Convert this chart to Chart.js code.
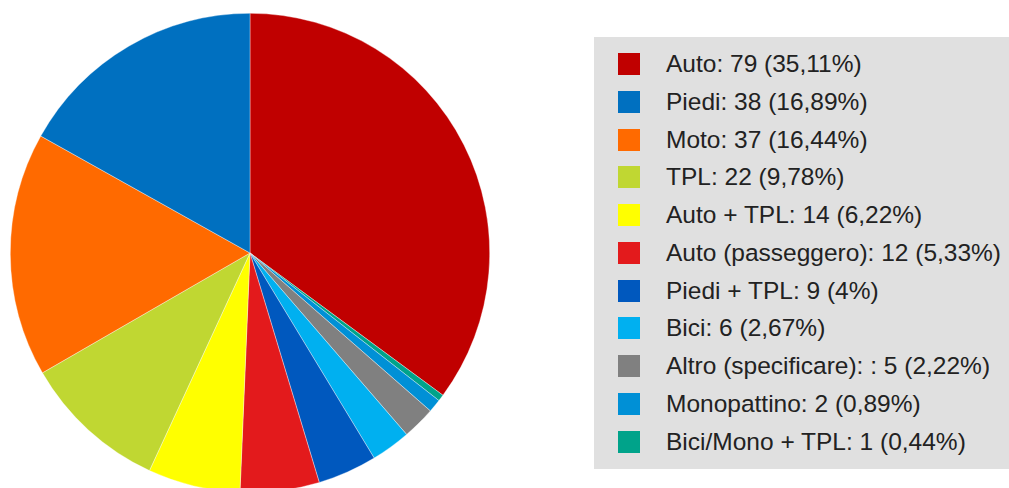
<!DOCTYPE html>
<html>
<head>
<meta charset="utf-8">
<script src="https://cdn.jsdelivr.net/npm/chart.js@4.4.0/dist/chart.umd.min.js"></script>
<style>
  html, body { margin: 0; padding: 0; background: #fff; overflow: hidden; width: 1009px; height: 488px; }
  #pieBox { position: absolute; left: 10px; top: 13px; width: 480px; height: 480px; }
  #legend { position: absolute; left: 594px; top: 37px; width: 415px; height: 432px; background: #e0e0e0; }
  .item { position: absolute; left: 0; height: 22px; font-family: "Liberation Sans", Arial, sans-serif; font-size: 24.5px; color: #222; white-space: pre; }
  .item .sw { position: absolute; left: 24px; top: 0; width: 22px; height: 22px; }
  .item .tx { position: absolute; left: 72px; top: 11px; transform: translateY(-50%); line-height: 1; }
</style>
</head>
<body>
<div id="pieBox"><canvas id="pie"></canvas></div>
<div id="legend"></div>
<script>
const categories = ['Auto', 'Piedi', 'Moto', 'TPL', 'Auto + TPL', 'Auto (passeggero)', 'Piedi + TPL', 'Bici', 'Altro (specificare): ', 'Monopattino', 'Bici/Mono + TPL'];
const values = [79, 38, 37, 22, 14, 12, 9, 6, 5, 2, 1];
const colors = ['#c00000', '#0070c0', '#ff6a00', '#c0d732', '#ffff00', '#e31a1c', '#0058be', '#00b0f0', '#808080', '#0090d6', '#00a38a'];

// the source pie runs Auto clockwise from the top, the rest follow in reverse order
const drawOrder = [0, 10, 9, 8, 7, 6, 5, 4, 3, 2, 1];

const total = values.reduce((a, b) => a + b, 0);
function pct(v) {
    return Number((v / total * 100).toFixed(2)).toString().replace('.', ',');
}

// legend
const legend = document.getElementById('legend');
categories.forEach((c, i) => {
    const row = document.createElement('div');
    row.className = 'item';
    row.style.top = (16 + i * 37.75) + 'px';
    const sw = document.createElement('div');
    sw.className = 'sw';
    sw.style.background = colors[i];
    const tx = document.createElement('div');
    tx.className = 'tx';
    tx.textContent = c + ': ' + values[i] + ' (' + pct(values[i]) + '%)';
    row.appendChild(sw);
    row.appendChild(tx);
    legend.appendChild(row);
});

const ctx = document.getElementById('pie').getContext('2d');
const pie = new Chart(ctx, {
    type: 'pie',
    data: {
        labels: drawOrder.map(i => categories[i]),
        datasets: [{
            data: drawOrder.map(i => values[i]),
            backgroundColor: drawOrder.map(i => colors[i]),
            borderColor: 'rgba(255,255,255,0.6)',
            borderWidth: 0.6
        }]
    },
    options: {
        responsive: true,
        maintainAspectRatio: false,
        animation: false,
        layout: { padding: 0 },
        plugins: {
            legend: { display: false },
            tooltip: { enabled: false }
        }
    }
});
</script>
</body>
</html>
